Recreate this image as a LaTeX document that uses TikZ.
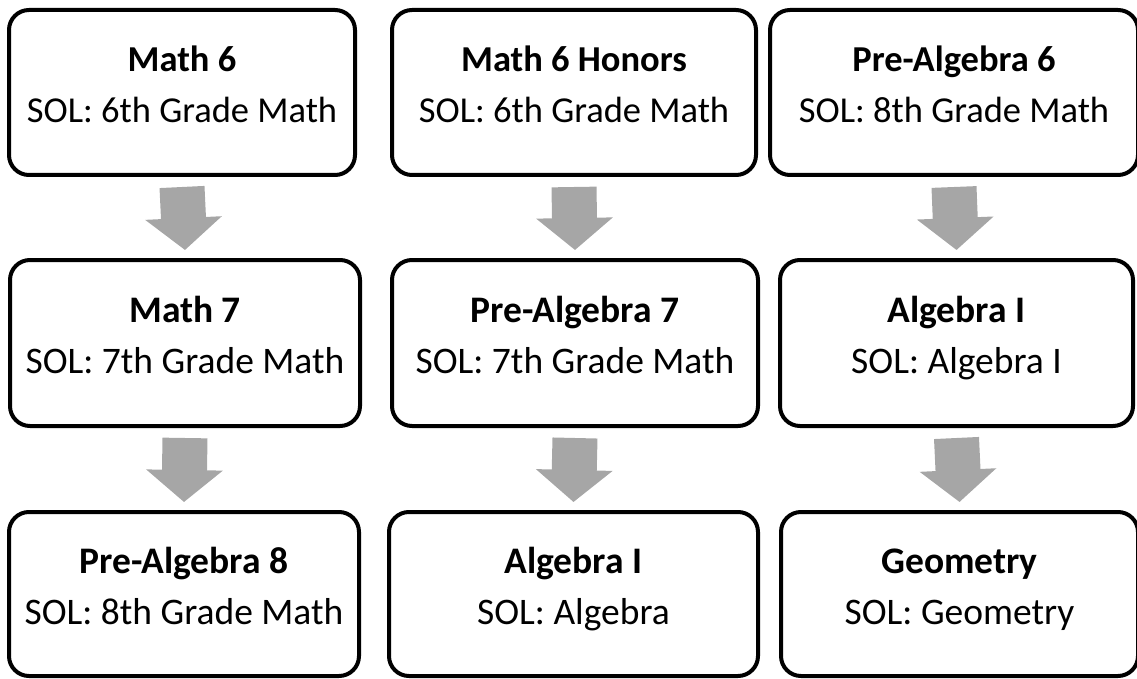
\documentclass[tikz,border=0pt]{standalone}
\usepackage{fontspec}
\setmainfont{Carlito}
\usetikzlibrary{arrows.meta}
\definecolor{arrowgray}{RGB}{166,166,166}
\newcommand{\coursetext}[2]{\rule{0pt}{30pt}\textbf{#1}\\#2\rule[-20pt]{0pt}{20pt}}
\tikzset{
	course/.style={draw, line width=4pt, rounded corners=20pt, align=center, inner sep=0pt,
		font=\fontsize{37.5}{51}\selectfont},
	toprow/.style={font=\fontsize{36.5}{51}\selectfont},
	flow/.style={arrowgray, line width=45pt, -{Triangle[width=75pt 0 0, length=32pt 0 0]}}
}
\begin{document}
\begin{tikzpicture}[x=1pt,y=1pt]
	\useasboundingbox (0,0) rectangle (1137,-679);
	% first year
	\node[course, toprow, minimum width=346pt, minimum height=165pt] (m6) at (182,-92.5) {\coursetext{Math 6}{SOL: 6th Grade Math}};
	\node[course, toprow, minimum width=364pt, minimum height=165pt] (m6h) at (574,-92.5) {\coursetext{Math 6 Honors}{SOL: 6th Grade Math}};
	\node[course, toprow, minimum width=368pt, minimum height=165pt] (pa6) at (954,-92.5) {\coursetext{Pre-Algebra 6}{SOL: 8th Grade Math}};
	% second year
	\node[course, minimum width=350pt, minimum height=166pt] (m7) at (185,-343) {\coursetext{Math 7}{SOL: 7th Grade Math}};
	\node[course, minimum width=366pt, minimum height=166pt] (pa7) at (575,-343) {\coursetext{Pre-Algebra 7}{SOL: 7th Grade Math}};
	\node[course, minimum width=353pt, minimum height=166pt] (alg1a) at (956.5,-343) {\coursetext{Algebra I}{SOL: Algebra I}};
	% third year
	\node[course, minimum width=350pt, minimum height=164pt] (pa8) at (184,-594) {\coursetext{Pre-Algebra 8}{SOL: 8th Grade Math}};
	\node[course, minimum width=369pt, minimum height=164pt] (alg1b) at (573.5,-594) {\coursetext{Algebra I}{SOL: Algebra}};
	\node[course, minimum width=357pt, minimum height=164pt] (geo) at (959.5,-594) {\coursetext{Geometry}{SOL: Geometry}};
	\draw[flow] ([yshift=-10pt]m6.south) -- ([yshift=8pt]m7.north);
	\draw[flow] ([yshift=-10pt]m6h.south) -- ([yshift=8pt]pa7.north);
	\draw[flow] ([yshift=-10pt]pa6.south) -- ([yshift=8pt]alg1a.north);
	\draw[flow] ([yshift=-10pt]m7.south) -- ([yshift=8pt]pa8.north);
	\draw[flow] ([yshift=-10pt]pa7.south) -- ([yshift=8pt]alg1b.north);
	\draw[flow] ([yshift=-10pt]alg1a.south) -- ([yshift=8pt]geo.north);
\end{tikzpicture}
\end{document}
